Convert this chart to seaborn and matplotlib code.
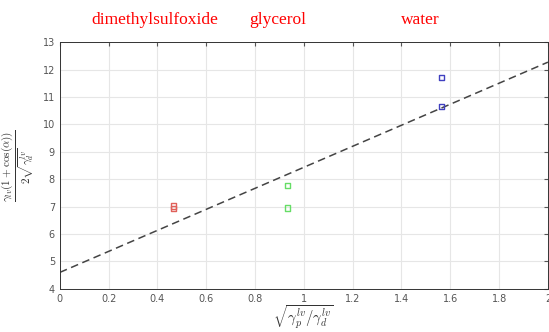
import numpy as np
import pandas as pd
import seaborn as sns
import matplotlib.pyplot as plt

liquids = ["dimethylsulfoxide", "dimethylsulfoxide", "glycerol", "glycerol", "water", "water"]
x_vals = [0.467, 0.467, 0.934, 0.934, 1.563, 1.563]
y_vals = [7.02, 6.93, 7.78, 6.95, 11.72, 10.66]
colors = {"dimethylsulfoxide": "#e0605a", "glycerol": "#66dd66", "water": "#4040c0"}

# Fitted line end points
fit_x = [0.0, 2.0]
fit_y = [4.6, 12.27]

x_ticks = np.arange(0, 2.01, 0.2)
x_tick_labels = ["0", "0.2", "0.4", "0.6", "0.8", "1", "1.2", "1.4", "1.6", "1.8", "2"]
y_ticks = list(range(4, 14))

df = pd.DataFrame({"x": x_vals, "y": y_vals, "liquid": liquids})

sns.set_style("white")
plt.rcParams["mathtext.fontset"] = "cm"
fig = plt.figure(figsize=(5.49, 3.32), dpi=100)
ax = fig.add_axes([0.109, 0.130, 0.889, 0.743])

sns.lineplot(x=fit_x, y=fit_y, ax=ax, color="#444444", linestyle=(0, (5, 3)), linewidth=1.1)
sns.scatterplot(data=df, x="x", y="y", hue="liquid", palette=colors, marker="s",
                s=14, linewidth=1.0, ax=ax, legend=False, zorder=3)
for c in ax.collections:
    c.set_facecolor("none")
    c.set_edgecolor([colors[l] for l in liquids])

ax.set_xlim(0, 2)
ax.set_ylim(4, 13)
ax.set_xticks(x_ticks)
ax.set_xticklabels(x_tick_labels)
ax.set_yticks(y_ticks)
ax.grid(True, color="#e6e6e6", linewidth=0.8)
ax.tick_params(direction="in", length=3, labelsize=7, colors="#555555",
               top=True, right=True, labelcolor="#555555")
for sp in ax.spines.values():
    sp.set_color("#333333")
    sp.set_linewidth(0.7)

ax.set_xlabel(r"$\sqrt{\gamma_p^{lv}/\gamma_d^{lv}}$", fontsize=10.5, color="#333333", labelpad=0)
ax.set_ylabel(r"$\frac{\gamma_{lv}\left(1+\cos(\alpha)\right)}{2\sqrt{\gamma_d^{lv}}}$", fontsize=11.5,
              color="#333333", labelpad=5)

for name, xpos in [("dimethylsulfoxide", 155), ("glycerol", 278), ("water", 420)]:
    fig.text(xpos / 549, 1 - 20 / 332, name, color="red", fontsize=12.5,
             family="Liberation Serif", ha="center", va="center")

fig.savefig("out.png", dpi=100)
